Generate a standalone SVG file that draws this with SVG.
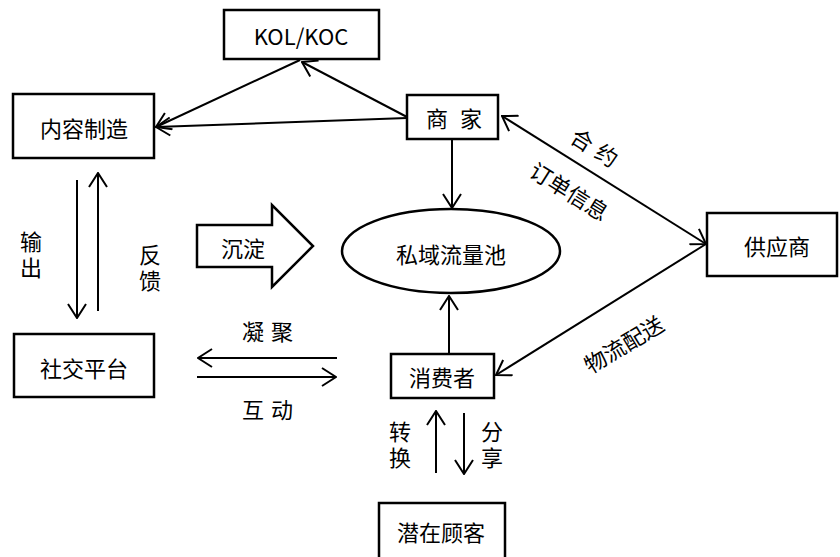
<svg xmlns="http://www.w3.org/2000/svg" width="840" height="557" viewBox="0 0 840 557">
<style>
.box{fill:#fff;stroke:#000;stroke-width:2.5}
.ln{fill:none;stroke:#000;stroke-width:2}
text{font-family:"Noto Sans CJK SC","Noto Sans",sans-serif;font-size:22px;fill:#000;text-anchor:middle;dominant-baseline:central}
.v{writing-mode:vertical-rl;letter-spacing:4px}
</style>
<defs>
<marker id="ah" markerUnits="userSpaceOnUse" viewBox="0 0 16 20" refX="15" refY="10" markerWidth="16" markerHeight="20" orient="auto-start-reverse">
<path d="M1,1 L15,10 L1,19" fill="none" stroke="#000" stroke-width="2"/>
</marker>
</defs>
<rect width="840" height="557" fill="#fff"/>
<g id="connectors">
<line class="ln" x1="407" y1="117" x2="302" y2="62" marker-end="url(#ah)"/>
<line class="ln" x1="300" y1="60" x2="156" y2="127" marker-end="url(#ah)"/>
<line class="ln" x1="407" y1="118" x2="156" y2="127" marker-end="url(#ah)"/>
<line class="ln" x1="502" y1="116" x2="706" y2="244" marker-start="url(#ah)" marker-end="url(#ah)"/>
<line class="ln" x1="706" y1="244" x2="496" y2="375" marker-end="url(#ah)"/>
<line class="ln" x1="452" y1="139" x2="452" y2="208" marker-end="url(#ah)"/>
<line class="ln" x1="449" y1="354" x2="449" y2="296" marker-end="url(#ah)"/>
<line class="ln" x1="77" y1="180" x2="77" y2="318" marker-end="url(#ah)"/>
<line class="ln" x1="98" y1="311" x2="98" y2="173" marker-end="url(#ah)"/>
<line class="ln" x1="337" y1="358" x2="198" y2="358" marker-end="url(#ah)"/>
<line class="ln" x1="197" y1="377" x2="336" y2="377" marker-end="url(#ah)"/>
<line class="ln" x1="436" y1="473" x2="436" y2="411" marker-end="url(#ah)"/>
<line class="ln" x1="464" y1="413" x2="464" y2="474" marker-end="url(#ah)"/>
<polygon class="box" points="197,225 272,225 272,205 313,246 272,287 272,267 197,267"/>
</g>
<g id="labels">
<text class="v" x="31" y="257">输出</text>
<text class="v" x="150" y="270">反馈</text>
<text x="243" y="247">沉淀</text>
<text y="330"><tspan x="253">凝</tspan><tspan x="282">聚</tspan></text>
<text y="408"><tspan x="253">互</tspan><tspan x="282">动</tspan></text>
<text class="v" x="400" y="447">转换</text>
<text class="v" x="492" y="447">分享</text>
<text transform="translate(595,146) rotate(32)"><tspan x="-14" y="0">合</tspan><tspan x="15" y="0">约</tspan></text>
<text transform="translate(570,190) rotate(32)">订单信息</text>
<text transform="translate(623,343) rotate(-31)">物流配送</text>
</g>
<g id="kol"><rect class="box" x="224" y="10" width="155" height="49"/><text x="301" y="35">KOL/KOC</text></g>
<g id="content"><rect class="box" x="13" y="94" width="141" height="64"/><text x="84" y="127">内容制造</text></g>
<g id="merchant"><rect class="box" x="407" y="95" width="91" height="44"/><text y="117"><tspan x="437">商</tspan><tspan x="471">家</tspan></text></g>
<g id="pool"><ellipse class="box" cx="451" cy="251" rx="109" ry="42"/><text x="451" y="253">私域流量池</text></g>
<g id="supplier"><rect class="box" x="707" y="213" width="130" height="63"/><text x="777" y="245">供应商</text></g>
<g id="consumer"><rect class="box" x="391" y="354" width="103" height="44"/><text x="442" y="376">消费者</text></g>
<g id="social"><rect class="box" x="14" y="334" width="140" height="63"/><text x="84" y="367">社交平台</text></g>
<g id="potential"><rect class="box" x="379" y="503" width="126" height="60"/><text x="441" y="531">潜在顾客</text></g>
</svg>
